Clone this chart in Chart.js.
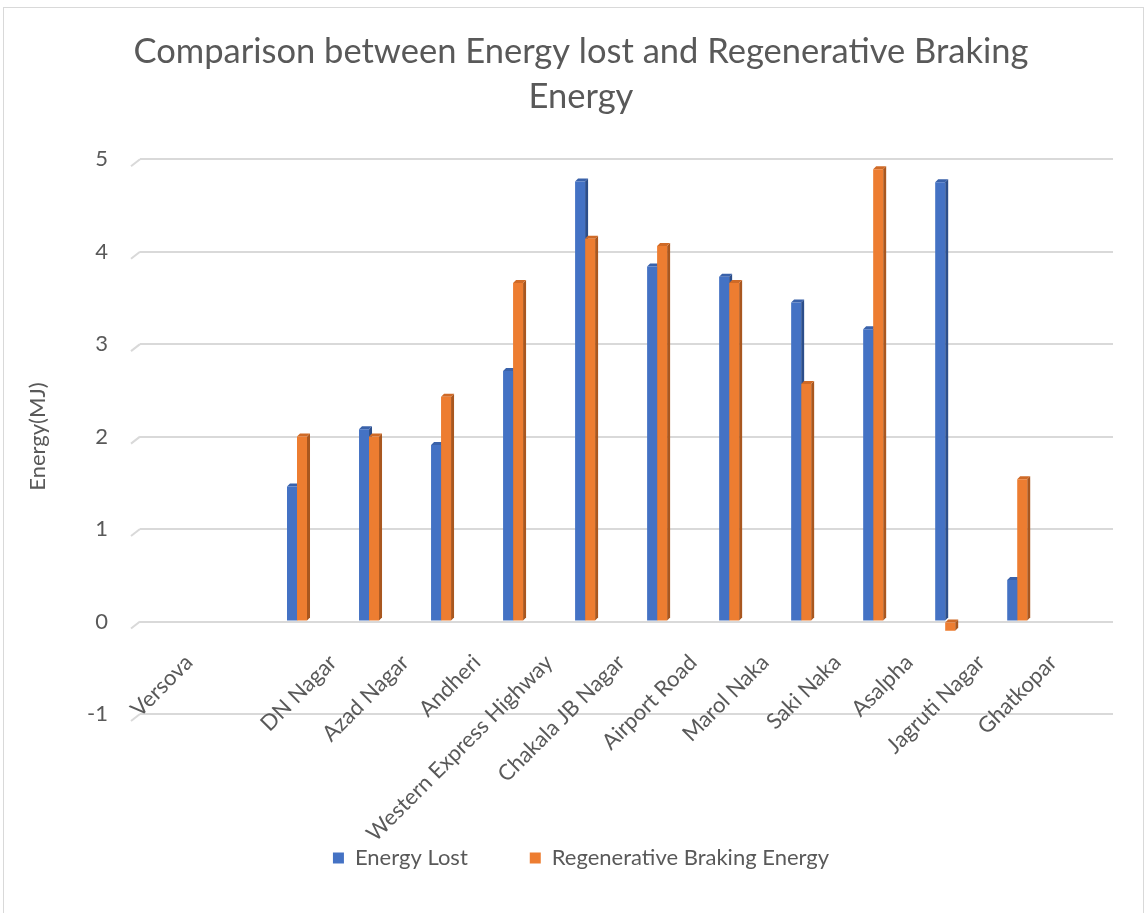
<!DOCTYPE html>
<html>
<head>
<meta charset="utf-8">
<script src="https://cdn.jsdelivr.net/npm/chart.js@4.4.1/dist/chart.umd.min.js"></script>
<style>
  html, body { margin: 0; padding: 0; background: #fff; }
  #wrap { position: relative; width: 1147px; height: 913px; overflow: hidden; }
  #wrap canvas { position: absolute; left: 0; top: 0; }
  #frame { position: absolute; left: 3px; top: 7px; width: 1141px; height: 920px;
           border: 1px solid #d9d9d9; box-sizing: border-box; pointer-events: none; }
</style>
</head>
<body>
<div id="wrap">
  <canvas id="energyChart" width="1147" height="913"></canvas>
  <div id="frame"></div>
</div>
<script>
// Stations along the line (the blank entry is an empty slot on the axis)
const stations = ['Versova', '', 'DN Nagar', 'Azad Nagar', 'Andheri', 'Western Express Highway',
  'Chakala JB Nagar', 'Airport Road', 'Marol Naka', 'Saki Naka', 'Asalpha', 'Jagruti Nagar', 'Ghatkopar'];

// Energy per station, MJ
const energyLost         = [0, null, 1.46, 2.08, 1.91, 2.71, 4.76, 3.84, 3.73, 3.45, 3.16, 4.75, 0.45];
const regenBrakingEnergy = [0, null, 2.00, 2.00, 2.43, 3.66, 4.14, 4.06, 3.66, 2.57, 4.89, -0.10, 1.54];

const valueTicks = [-1, 0, 1, 2, 3, 4, 5];

const seriesNames = ['Energy Lost', 'Regenerative Braking Energy'];

const TEXT = '#595959';
const FONT = 'Lato';

// Side and top faces that give the columns their depth, plus the floor edge of each gridline
const columnDepth = {
  id: 'columnDepth',
  beforeDatasetsDraw(chart, args, opts) {
    const { ctx, chartArea } = chart;
    const yScale = chart.scales.y;
    const d = opts.depth;
    ctx.save();
    ctx.strokeStyle = opts.gridColor;
    ctx.lineWidth = 2;
    yScale.ticks.forEach(t => {
      const py = yScale.getPixelForValue(t.value);
      ctx.beginPath();
      ctx.moveTo(chartArea.left - 9, py + 7);
      ctx.lineTo(chartArea.left, py);
      ctx.stroke();
    });
    chart.data.datasets.forEach((ds, di) => {
      const meta = chart.getDatasetMeta(di);
      const face = opts.faces[di];
      meta.data.forEach((bar, i) => {
        const v = ds.data[i].y;
        if (!v) return;
        const { x, y, base, width } = bar.getProps(['x', 'y', 'base', 'width'], true);
        const l = x - width / 2, r = x + width / 2;
        const t = Math.min(y, base), b = Math.max(y, base);
        ctx.fillStyle = face.side;
        ctx.beginPath();
        ctx.moveTo(r, t); ctx.lineTo(r + d, t - d); ctx.lineTo(r + d, b - d); ctx.lineTo(r, b);
        ctx.closePath(); ctx.fill();
        ctx.fillStyle = face.top;
        ctx.beginPath();
        ctx.moveTo(l, t); ctx.lineTo(l + d, t - d); ctx.lineTo(r + d, t - d); ctx.lineTo(r, t);
        ctx.closePath(); ctx.fill();
      });
    });
    ctx.restore();
  }
};

const toPoints = arr => arr.map((v, i) => ({ x: i, y: v }));

new Chart(document.getElementById('energyChart'), {
  type: 'bar',
  data: {
    datasets: [
      { label: seriesNames[0], data: toPoints(energyLost), backgroundColor: '#4472C4',
        barThickness: 10, inflateAmount: 0 },
      { label: seriesNames[1], data: toPoints(regenBrakingEnergy), backgroundColor: '#ED7D31',
        barThickness: 10, inflateAmount: 0 }
    ]
  },
  options: {
    responsive: false,
    animation: false,
    devicePixelRatio: 1,
    layout: { padding: { left: 49, right: 34, top: 0, bottom: 34 } },
    scales: {
      // category axis crosses the value axis at zero
      x: {
        type: 'linear',
        position: { y: 0 },
        offset: false,
        min: -0.18,
        max: 13.33,
        grid: { display: false, drawTicks: false },
        border: { display: false },
        afterBuildTicks: s => { s.ticks = stations.map((_, i) => ({ value: i })); },
        ticks: {
          autoSkip: false,
          minRotation: 45,
          maxRotation: 45,
          labelOffset: 36,
          padding: 28,
          color: TEXT,
          font: { family: FONT, size: 22 },
          callback: v => stations[v] ?? ''
        }
      },
      // empty band between the plot and the legend
      legendGap: {
        type: 'linear',
        axis: 'x',
        position: 'bottom',
        grid: { display: false, drawTicks: false },
        border: { display: false },
        ticks: { display: false },
        afterFit: s => { s.height = 71; }
      },
      y: {
        min: -1,
        max: 5,
        afterBuildTicks: s => { s.ticks = valueTicks.map(v => ({ value: v })); },
        afterFit: s => { s.width = 91; },
        grid: { color: '#d9d9d9', lineWidth: 2, drawTicks: false },
        border: { display: false },
        ticks: { padding: 32, color: TEXT, font: { family: FONT, size: 22 } },
        title: {
          display: true,
          text: 'Energy(MJ)',
          color: TEXT,
          font: { family: FONT, size: 22 },
          padding: { top: -24, bottom: 0 }
        }
      }
    },
    plugins: {
      title: {
        display: true,
        text: ['Comparison between Energy lost and Regenerative Braking', 'Energy'],
        color: TEXT,
        font: { family: FONT, size: 34.5, weight: 'normal', lineHeight: 1.3 },
        padding: { top: 29.5, bottom: 40 }
      },
      legend: {
        position: 'bottom',
        labels: {
          boxWidth: 11,
          boxHeight: 11,
          padding: 62,
          color: TEXT,
          font: { family: FONT, size: 22 }
        }
      },
      tooltip: { enabled: false },
      columnDepth: {
        depth: 3,
        gridColor: '#d9d9d9',
        faces: [
          { top: '#3A62AA', side: '#2C4E8A' },
          { top: '#CF6A27', side: '#A9571F' }
        ]
      }
    }
  },
  plugins: [columnDepth]
});
</script>
</body>
</html>
